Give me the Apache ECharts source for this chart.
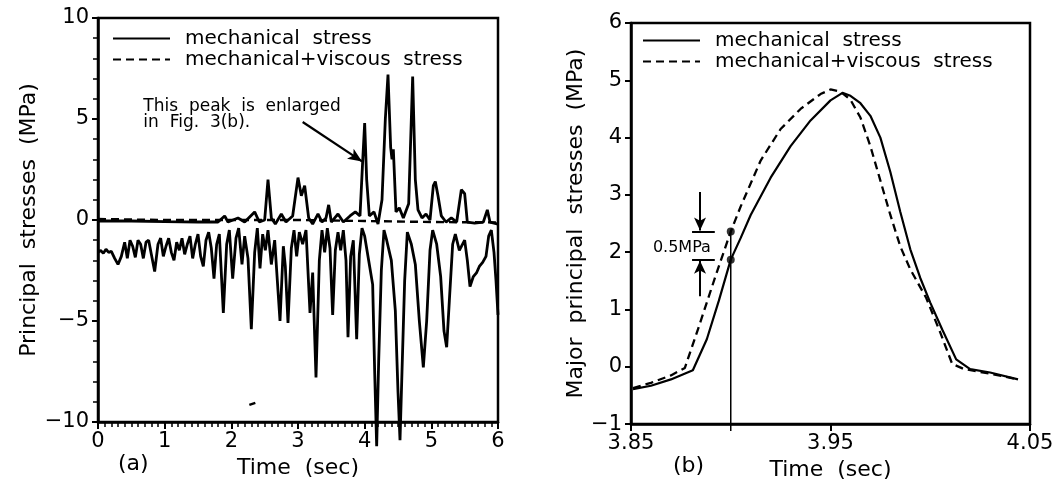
<!DOCTYPE html>
<html>
<head>
<meta charset="utf-8">
<script src="https://cdn.jsdelivr.net/npm/echarts@6/dist/echarts.min.js"></script>
<style>
  html, body { margin: 0; padding: 0; background: #fff; }
  #chart { width: 1057px; height: 486px; }
</style>
</head>
<body>
<div id="chart"></div>
<script>
// panel (a): principal stresses over 0-6 s, [time, MPa]
var minorStressA = [
  [0, -1.6], [0.04, -1.5], [0.08, -1.65], [0.12, -1.45], [0.16, -1.6], [0.2, -1.55], [0.25, -1.9],
  [0.3, -2.2], [0.35, -1.8], [0.4, -1.1], [0.44, -1.9], [0.48, -1.0], [0.52, -1.3], [0.56, -1.85],
  [0.6, -1.0], [0.64, -1.2], [0.68, -1.9], [0.72, -1.1], [0.76, -1.0], [0.8, -1.7], [0.85, -2.55],
  [0.9, -1.2], [0.94, -0.9], [0.98, -1.8], [1.02, -1.3], [1.06, -0.9], [1.1, -1.6], [1.14, -2.0],
  [1.18, -1.1], [1.22, -1.5], [1.26, -0.9], [1.3, -1.7], [1.34, -1.2], [1.38, -0.8], [1.42, -1.9],
  [1.46, -1.2], [1.5, -0.7], [1.54, -1.8], [1.58, -2.3], [1.62, -1.0], [1.66, -0.6], [1.7, -1.4],
  [1.74, -2.9], [1.78, -1.2], [1.82, -0.7], [1.88, -4.6], [1.93, -1.2], [1.97, -0.5], [2.02, -2.9],
  [2.07, -0.9], [2.11, -0.4], [2.16, -2.2], [2.2, -0.8], [2.25, -1.9], [2.3, -5.4], [2.35, -1.6],
  [2.39, -0.4], [2.43, -2.4], [2.47, -0.7], [2.51, -1.5], [2.55, -0.5], [2.6, -2.2], [2.65, -1.0],
  [2.73, -5.0], [2.78, -1.3], [2.81, -2.3], [2.85, -5.1], [2.9, -1.4], [2.94, -0.5], [2.98, -1.8],
  [3.02, -0.6], [3.07, -1.2], [3.12, -0.5], [3.18, -4.6], [3.22, -2.6], [3.27, -7.8], [3.32, -2.0],
  [3.36, -0.5], [3.4, -1.6], [3.44, -0.4], [3.48, -1.4], [3.52, -4.7], [3.56, -1.5], [3.6, -0.6],
  [3.64, -1.5], [3.68, -0.5], [3.72, -2.0], [3.75, -5.8], [3.79, -1.8], [3.83, -1.0], [3.88, -5.9],
  [3.92, -1.7], [3.96, -0.4], [4.0, -0.8], [4.06, -2.0], [4.12, -3.2], [4.15, -7.5], [4.18, -11.2],
  [4.21, -7.0], [4.25, -2.5], [4.29, -0.5], [4.33, -1.0], [4.4, -2.0], [4.46, -4.5], [4.5, -8.5],
  [4.53, -10.9], [4.56, -7.5], [4.6, -3.0], [4.64, -0.6], [4.7, -1.2], [4.76, -2.2], [4.82, -5.0],
  [4.88, -7.3], [4.93, -5.0], [4.98, -1.5], [5.02, -0.5], [5.08, -1.2], [5.14, -2.8], [5.19, -5.5],
  [5.23, -6.3], [5.27, -4.0], [5.32, -1.2], [5.36, -0.7], [5.42, -1.5], [5.5, -1.0], [5.54, -2.0],
  [5.58, -3.3], [5.63, -2.8], [5.68, -2.6], [5.72, -2.3], [5.77, -2.1], [5.82, -1.8], [5.86, -0.8],
  [5.9, -0.5], [5.94, -1.6], [5.97, -3.0], [6.0, -4.7]
];
var majorStressA = [
  [0, -0.05], [0.5, -0.05], [1.0, -0.08], [1.5, -0.1], [1.8, -0.1], [1.9, 0.2], [1.95, -0.1],
  [2.1, 0.1], [2.2, -0.1], [2.35, 0.4], [2.42, -0.1], [2.5, 0.0], [2.55, 2.0], [2.6, 0.1],
  [2.66, -0.2], [2.75, 0.3], [2.82, -0.1], [2.92, 0.2], [3.0, 2.1], [3.05, 1.2], [3.1, 1.7],
  [3.16, 0.1], [3.22, -0.2], [3.3, 0.3], [3.36, -0.1], [3.42, 0.1], [3.46, 0.75], [3.5, -0.1],
  [3.6, 0.3], [3.68, -0.1], [3.78, 0.2], [3.86, 0.4], [3.93, 0.2], [3.97, 2.9], [4.0, 4.8],
  [4.03, 2.0], [4.07, 0.2], [4.14, 0.4], [4.2, -0.2], [4.26, 1.0], [4.31, 5.0], [4.35, 7.2],
  [4.39, 3.6], [4.41, 3.0], [4.43, 3.5], [4.47, 0.4], [4.52, 0.6], [4.58, 0.1], [4.66, 0.8],
  [4.72, 7.1], [4.76, 2.0], [4.8, 0.5], [4.86, 0.1], [4.92, 0.3], [4.98, 0.0], [5.03, 1.7],
  [5.06, 1.9], [5.1, 1.2], [5.15, 0.2], [5.22, -0.1], [5.3, 0.1], [5.38, -0.1], [5.45, 1.5],
  [5.5, 1.3], [5.54, -0.1], [5.65, -0.15], [5.78, -0.1], [5.84, 0.5], [5.88, -0.1], [6.0, -0.2]
];
var viscousStressA = [[0, 0.05], [1, 0.0], [2, 0.0], [3, 0.0], [4, -0.05], [5, -0.1], [6, -0.12]];
var strayMarkA = [[2.27, -9.15], [2.36, -9.05]];

// panel (b): enlarged peak, [time, MPa]
var mechStressB = [
  [3.851, -0.39], [3.86, -0.33], [3.87, -0.22], [3.881, -0.06], [3.888, 0.48], [3.894, 1.15],
  [3.9, 1.87], [3.905, 2.25], [3.91, 2.65], [3.92, 3.3], [3.93, 3.85], [3.94, 4.3], [3.95, 4.65],
  [3.956, 4.78], [3.96, 4.73], [3.965, 4.6], [3.97, 4.38], [3.975, 4.0], [3.98, 3.4], [3.985, 2.7],
  [3.99, 2.05], [3.995, 1.55], [4.0, 1.12], [4.006, 0.65], [4.013, 0.13], [4.02, -0.04],
  [4.03, -0.1], [4.044, -0.22]
];
var viscStressB = [
  [3.851, -0.37], [3.86, -0.28], [3.87, -0.15], [3.877, -0.02], [3.884, 0.7], [3.893, 1.65],
  [3.9, 2.36], [3.905, 2.8], [3.915, 3.6], [3.925, 4.15], [3.935, 4.5], [3.945, 4.76], [3.95, 4.84],
  [3.955, 4.8], [3.96, 4.66], [3.965, 4.35], [3.97, 3.85], [3.975, 3.25], [3.98, 2.65], [3.985, 2.1],
  [3.99, 1.7], [3.998, 1.2], [4.005, 0.6], [4.011, 0.05], [4.017, -0.04], [4.03, -0.12], [4.044, -0.22]
];
var markerTimeB = [[3.9, -1.12], [3.9, 2.36]];
var markerDotsB = [[3.9, 1.87], [3.9, 2.36]];

var FONT = "DejaVu Sans";
var minusLabel = function (v) { return v < 0 ? "\u2212" + Math.abs(v) : String(v); };

var axisBase = {
  axisLine: { show: true, onZero: false, lineStyle: { color: "#000", width: 2.5 } },
  axisTick: { show: true, inside: false, length: 7, lineStyle: { color: "#000", width: 2 } },
  axisLabel: { color: "#000", fontSize: 21, fontFamily: FONT, margin: 9 },
  splitLine: { show: false },
  nameTextStyle: { color: "#000", fontSize: 22, fontFamily: FONT }
};
function axis(extra) { return Object.assign({}, JSON.parse(JSON.stringify(axisBase)), extra); }

var legendStyle = {
  orient: "vertical", itemWidth: 57, itemHeight: 12, itemGap: 0, padding: 0,
  data: ["mechanical  stress", "mechanical+viscous  stress"],
  itemStyle: { opacity: 0 },
  textStyle: { color: "#000", fontSize: 20, fontFamily: FONT, lineHeight: 21, padding: [0, 0, 0, 10] },
  selectedMode: false
};

var chart = echarts.init(document.getElementById("chart"));
var option = {
  animation: false,
  backgroundColor: "#fff",
  grid: [
    { left: 98, top: 18, width: 400, height: 404, show: true, borderColor: "#000", borderWidth: 2.5 },
    { left: 631, top: 23, width: 399, height: 402, show: true, borderColor: "#000", borderWidth: 2.5 }
  ],
  xAxis: [
    axis({
      gridIndex: 0, type: "value", min: 0, max: 6, interval: 1,
      name: "Time  (sec)", nameLocation: "middle", nameGap: 32,
      minorTick: { show: true, splitNumber: 10, length: 5, lineStyle: { color: "#000", width: 1.5 } }
    }),
    axis({
      gridIndex: 1, type: "value", min: 3.85, max: 4.05, interval: 0.1,
      name: "Time  (sec)", nameLocation: "middle", nameGap: 32,
      axisLabel: { color: "#000", fontSize: 21, fontFamily: FONT, margin: 9,
        formatter: function (v) { return v.toFixed(2); } }
    })
  ],
  yAxis: [
    axis({
      gridIndex: 0, type: "value", min: -10, max: 10, interval: 5,
      name: "Principal  stresses  (MPa)", nameLocation: "middle", nameGap: 58,
      axisTick: { show: true, length: 6, lineStyle: { color: "#000", width: 2 } },
      minorTick: { show: true, splitNumber: 5, length: 5, lineStyle: { color: "#000", width: 1.5 } },
      axisLabel: { color: "#000", fontSize: 21, fontFamily: FONT, margin: 9, formatter: minusLabel }
    }),
    axis({
      gridIndex: 1, type: "value", min: -1, max: 6, interval: 1,
      name: "Major  principal  stresses  (MPa)", nameLocation: "middle", nameGap: 37,
      axisTick: { show: true, length: 6, lineStyle: { color: "#000", width: 2 } },
      axisLabel: { color: "#000", fontSize: 21, fontFamily: FONT, margin: 9, formatter: minusLabel }
    })
  ],
  legend: [
    Object.assign({ left: 112, top: 28 }, legendStyle),
    Object.assign({ left: 642, top: 30 }, legendStyle)
  ],
  graphic: [
    { type: "text", left: 118, top: 453, style: { text: "(a)", font: "22px DejaVu Sans", fill: "#000" } },
    { type: "text", left: 673, top: 455, style: { text: "(b)", font: "22px DejaVu Sans", fill: "#000" } }
  ],
  series: [
    {
      name: "mechanical+viscous  stress", type: "line", xAxisIndex: 0, yAxisIndex: 0,
      data: viscousStressA, showSymbol: false, symbol: "none", itemStyle: { color: "#000" },
      lineStyle: { color: "#000", width: 2.4, type: [8, 5] }
    },
    {
      name: "mechanical  stress", type: "line", xAxisIndex: 0, yAxisIndex: 0,
      data: minorStressA, showSymbol: false, symbol: "none", clip: false, itemStyle: { color: "#000" },
      lineStyle: { color: "#000", width: 2.8 }
    },
    {
      name: "mechanical  stress", type: "line", xAxisIndex: 0, yAxisIndex: 0,
      data: majorStressA, showSymbol: false, symbol: "none", itemStyle: { color: "#000" },
      lineStyle: { color: "#000", width: 2.8 },
      markLine: {
        silent: true, symbol: ["none", "arrow"], symbolSize: [9, 14], animation: false,
        label: { show: false },
        lineStyle: { color: "#000", width: 2.2, type: "solid" },
        data: [[{ coord: [3.07, 4.85] }, { coord: [3.96, 2.9] }]]
      },
      markPoint: {
        silent: true, symbol: "rect", symbolSize: 0, animation: false,
        data: [{
          coord: [0.68, 5.22],
          label: {
            show: true, position: "right", distance: 0, color: "#000", fontSize: 17,
            fontFamily: FONT, lineHeight: 16, align: "left",
            formatter: "This  peak  is  enlarged\nin  Fig.  3(b)."
          }
        }]
      }
    },
    {
      name: "stray", type: "line", xAxisIndex: 0, yAxisIndex: 0, data: strayMarkA,
      showSymbol: false, symbol: "none", silent: true, lineStyle: { color: "#000", width: 2.5 }
    },
    {
      name: "mechanical+viscous  stress", type: "line", xAxisIndex: 1, yAxisIndex: 1,
      data: viscStressB, showSymbol: false, symbol: "none", itemStyle: { color: "#000" },
      lineStyle: { color: "#000", width: 2.3, type: [8, 5] }
    },
    {
      name: "mechanical  stress", type: "line", xAxisIndex: 1, yAxisIndex: 1,
      data: mechStressB, showSymbol: false, symbol: "none", itemStyle: { color: "#000" },
      lineStyle: { color: "#000", width: 2.2 }
    },
    {
      name: "marker", type: "line", xAxisIndex: 1, yAxisIndex: 1, data: markerTimeB,
      showSymbol: false, symbol: "none", clip: false, silent: true,
      lineStyle: { color: "#000", width: 1.5 }
    },
    {
      name: "dots", type: "scatter", xAxisIndex: 1, yAxisIndex: 1, data: markerDotsB,
      symbolSize: 8, itemStyle: { color: "#000" }, silent: true,
      markLine: {
        silent: true, symbol: ["none", "arrow"], symbolSize: [9, 13], animation: false,
        label: { show: false },
        lineStyle: { color: "#000", width: 2, type: "solid" },
        data: [
          [{ coord: [3.8846, 3.05] }, { coord: [3.8846, 2.38] }],
          [{ coord: [3.8846, 1.23] }, { coord: [3.8846, 1.85] }],
          [{ coord: [3.8806, 2.36], symbol: "none" }, { coord: [3.892, 2.36], symbol: "none" }],
          [{ coord: [3.8806, 1.87], symbol: "none" }, { coord: [3.892, 1.87], symbol: "none" }]
        ]
      },
      markPoint: {
        silent: true, symbol: "rect", symbolSize: 0, animation: false,
        data: [{
          coord: [3.8755, 2.07],
          label: { show: true, position: "inside", color: "#000", fontSize: 16, fontFamily: FONT,
            formatter: "0.5MPa" }
        }]
      }
    }
  ]
};
chart.setOption(option);
</script>
</body>
</html>
